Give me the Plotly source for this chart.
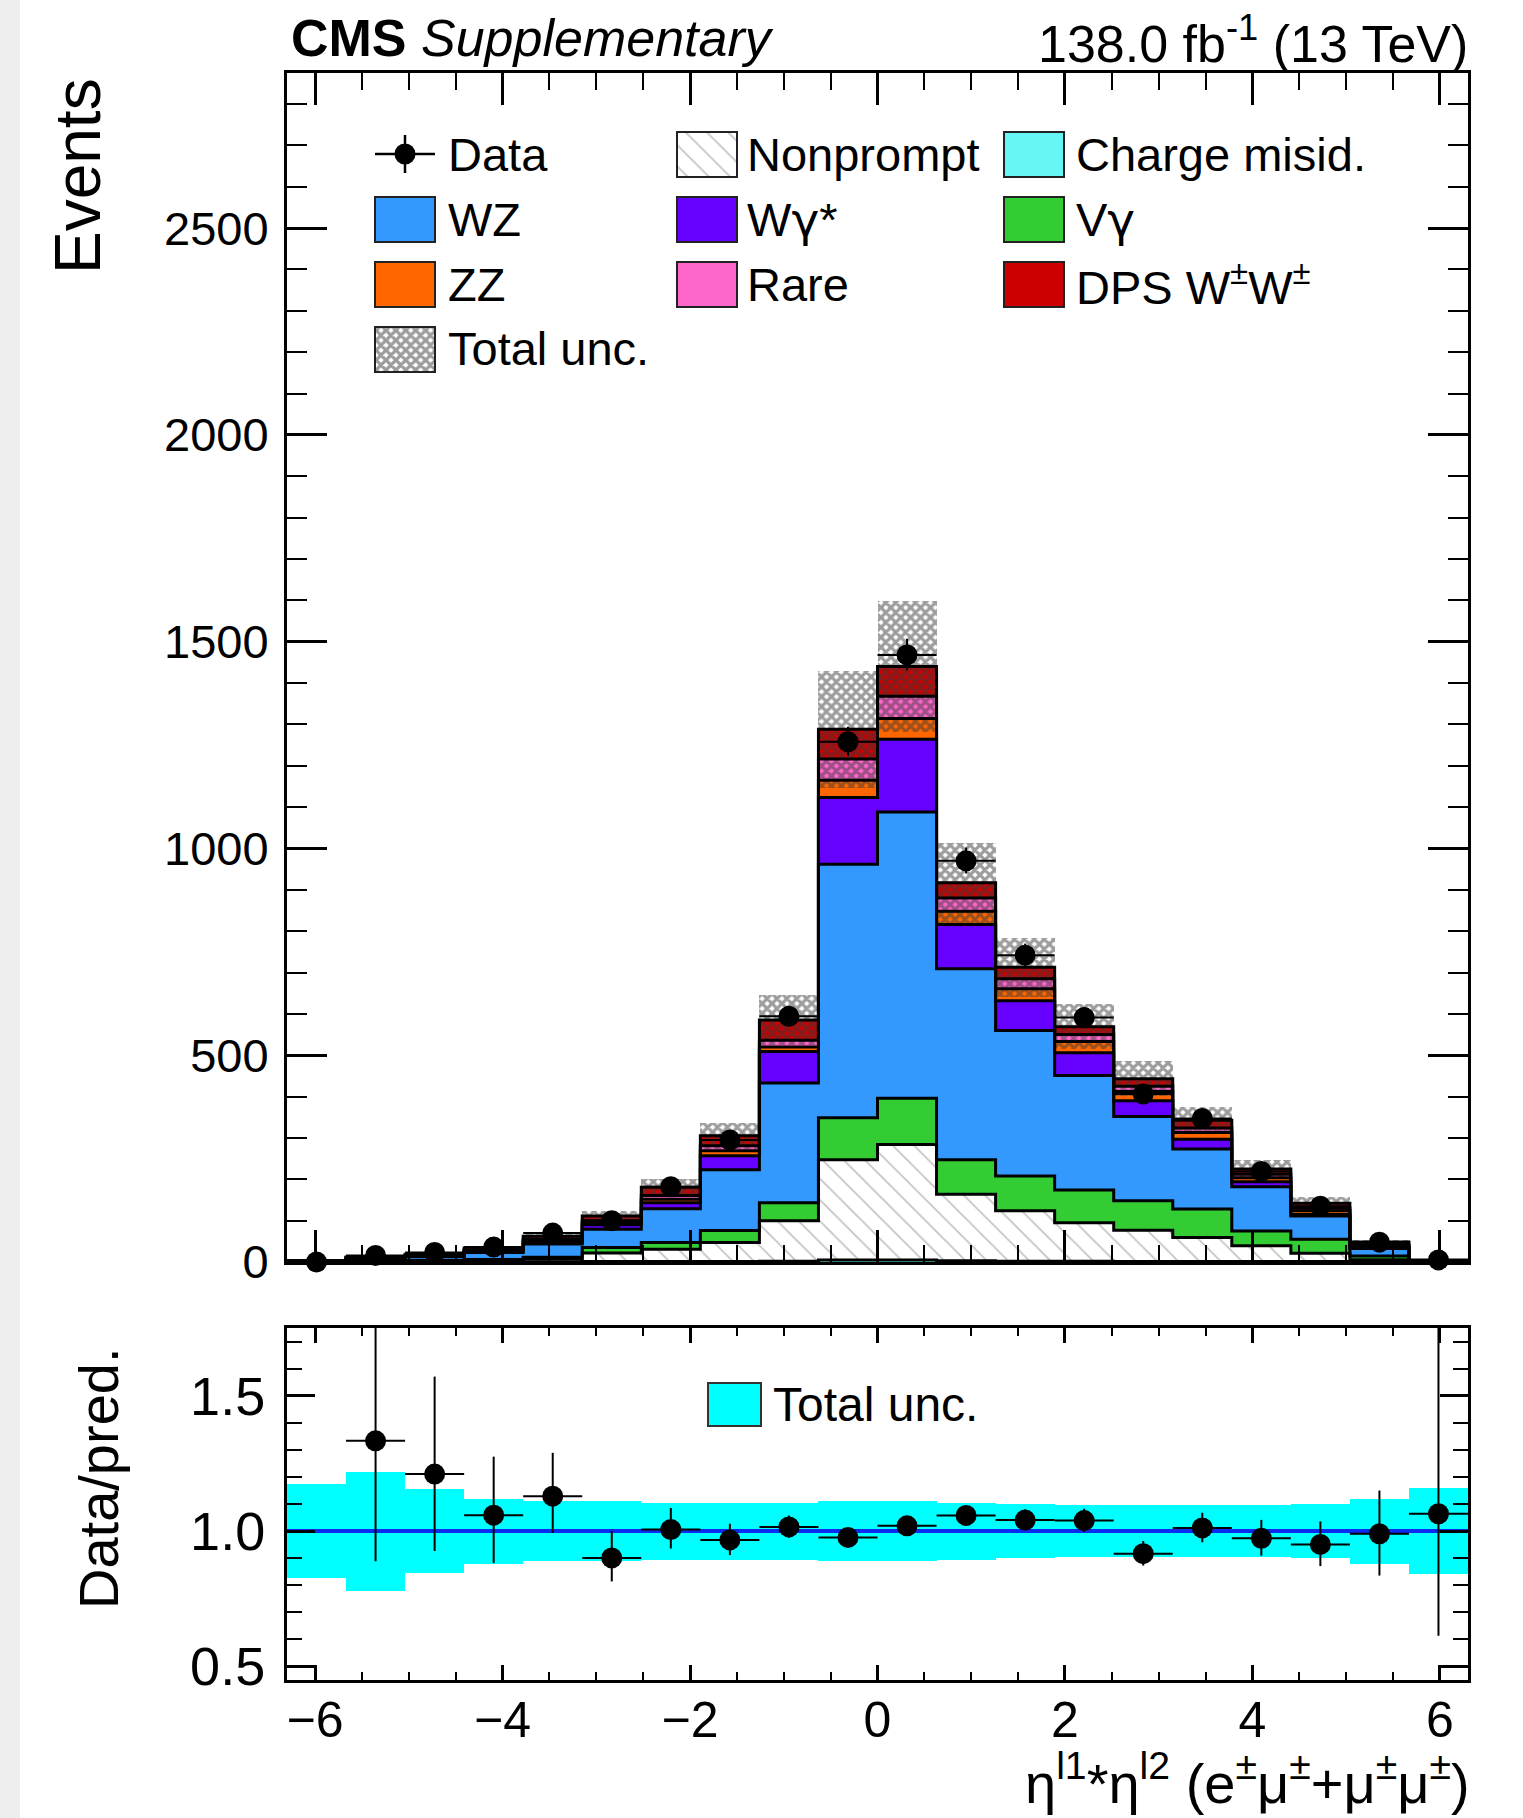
import numpy as np
import plotly.graph_objects as go

# ---------------- data ----------------
x_lo, x_hi, n_bins = -6.3, 6.3, 20

charge_misid = [0.1, 0.2, 0.3, 0.4, 0.5, 1, 1, 1, 2, 5, 5, 3, 2, 2, 1, 1, 1, 1, 0.5, 0.1]
nonprompt    = [0.3, 1.5, 2, 3.5, 7, 21, 30, 46, 98, 242, 279, 161, 122, 93, 76, 58, 38, 20, 5, 0.5]
vgamma       = [0.2, 0.8, 1.2, 2, 4, 13, 16, 29, 43, 102, 112, 83, 84, 79, 71, 69, 36, 34, 9, 0.5]
wz           = [1.5, 5.5, 9, 17, 32, 44, 82, 147, 290, 613, 692, 462, 352, 277, 204, 145, 107, 56, 18, 1.8]
wgammastar   = [0.2, 1, 1.5, 3, 5, 11, 14, 34, 76, 161, 176, 107, 72, 55, 38, 24, 12, 4, 2, 0.3]
zz           = [0.2, 0.6, 1, 2, 3, 5, 9, 12, 11, 42, 50, 32, 29, 27, 22, 16, 10, 9, 4, 0.3]
rare         = [0.2, 0.6, 1, 1.6, 3, 5, 9, 12, 16, 51, 54, 32, 24, 17, 13, 11, 8, 6, 3, 0.4]
dps_ww       = [0.6, 1.8, 3, 4.5, 7.5, 11, 20, 24, 49, 72, 72, 37, 28, 19, 18, 19, 13, 12, 7, 0.8]

data_counts  = [0, 16, 23, 36, 70, 100, 182, 295, 594, 1258, 1468, 970, 742, 591, 406, 347, 219, 135, 48, 5]

# relative total uncertainty of the prediction
rel_unc = [0.175, 0.22, 0.155, 0.12, 0.11, 0.11, 0.105, 0.105, 0.105, 0.11, 0.11,
           0.105, 0.10, 0.095, 0.095, 0.095, 0.095, 0.10, 0.12, 0.16]

# data/pred. error bars (up, down)
ratio_err_up = [0, 0.55, 0.36, 0.216, 0.16, 0.099, 0.08, 0.06, 0.042, 0.028, 0.027,
                0.035, 0.039, 0.044, 0.047, 0.056, 0.068, 0.085, 0.16, 0.75]
ratio_err_dn = [0, 0.445, 0.284, 0.177, 0.136, 0.087, 0.07, 0.056, 0.04, 0.027, 0.026,
                0.033, 0.037, 0.042, 0.044, 0.053, 0.064, 0.08, 0.154, 0.45]

x_ticks_major = [-6, -4, -2, 0, 2, 4, 6]

# ---------------- geometry ----------------
W, H = 1523, 1818
L, R, T, B = 287, 1468, 73, 1680
MAIN_BOTTOM = 1262
RATIO_TOP = 1328
pw, ph = R - L, B - T
FONT = "Liberation Sans, Arial, Helvetica, sans-serif"
GAMMA = "<span style=\"font-family:'DejaVu Sans'\">γ</span>"


def pxx(px):
    return (px - L) / pw


def pxy(py):
    return (B - py) / ph


def mu(px):
    return (px - L) / pw


def mv(py):
    return (MAIN_BOTTOM - py) / (MAIN_BOTTOM - T)


def rv(py):
    return (B - py) / (B - RATIO_TOP)


edges = np.linspace(x_lo, x_hi, n_bins + 1)
centers = 0.5 * (edges[:-1] + edges[1:])
bw = edges[1] - edges[0]

UNC_PATTERN = dict(shape="x", fgcolor="#3a3a3a", size=7, solidity=0.7, fillmode="overlay")

stack = [
    ("Charge misid.", charge_misid, "#66f6f6", None),
    ("Nonprompt", nonprompt, "white", dict(shape="\\", fgcolor="#8a8a8a", size=15, solidity=0.12, fillmode="overlay")),
    ("Vγ", vgamma, "#33cc33", None),
    ("WZ", wz, "#3399ff", None),
    ("Wγ*", wgammastar, "#6600ff", None),
    ("ZZ", zz, "#ff6600", None),
    ("Rare", rare, "#ff66cc", None),
    ("DPS W±W±", dps_ww, "#cc0000", None),
]

fig = go.Figure()

bottom = np.zeros(n_bins)
tops = []
for name, vals, color, pattern in stack:
    v = np.array(vals, dtype=float)
    marker = dict(color=color, line=dict(width=0))
    if pattern is not None:
        marker["pattern"] = pattern
    fig.add_trace(go.Bar(x=centers, y=v, base=bottom.copy(), width=[bw] * n_bins,
                         marker=marker, xaxis="x", yaxis="y", showlegend=False,
                         hoverinfo="skip"))
    bottom = bottom + v
    tops.append(bottom.copy())

# step outlines
for top in tops:
    xs = [edges[0]] + list(edges[:-1]) + [edges[-1], edges[-1]]
    ys = [0] + list(top) + [top[-1], 0]
    fig.add_trace(go.Scatter(x=xs, y=ys, mode="lines", line=dict(color="black", width=3, shape="hv"),
                             xaxis="x", yaxis="y", showlegend=False, hoverinfo="skip"))

pred = bottom
unc = pred * np.array(rel_unc)

# total uncertainty band
fig.add_trace(go.Bar(x=centers, y=2 * unc, base=pred - unc, width=[bw] * n_bins,
                     marker=dict(color="rgba(0,0,0,0)", line=dict(width=0), pattern=UNC_PATTERN),
                     xaxis="x", yaxis="y", showlegend=False, hoverinfo="skip"))

data = np.array(data_counts, dtype=float)
err_up = np.array(ratio_err_up) * pred
err_dn = np.array(ratio_err_dn) * pred
fig.add_trace(go.Scatter(x=centers, y=data, mode="markers",
                         marker=dict(color="black", size=21),
                         error_y=dict(type="data", array=err_up, arrayminus=err_dn, color="black",
                                      thickness=2, width=0),
                         error_x=dict(type="constant", value=bw / 2, color="black", thickness=2, width=0),
                         cliponaxis=False, xaxis="x", yaxis="y", showlegend=False, hoverinfo="skip"))

# ---------------- ratio panel ----------------
rel = np.array(rel_unc)
fig.add_trace(go.Bar(x=centers, y=2 * rel, base=1 - rel, width=[bw] * n_bins,
                     marker=dict(color="#00ffff", line=dict(width=0)),
                     xaxis="x2", yaxis="y2", showlegend=False, hoverinfo="skip"))
fig.add_trace(go.Scatter(x=[x_lo, x_hi], y=[1, 1], mode="lines", line=dict(color="#0a2cf0", width=4),
                         xaxis="x2", yaxis="y2", showlegend=False, hoverinfo="skip"))
ratio = np.where(data > 0, data / pred, np.nan)
fig.add_trace(go.Scatter(x=centers, y=ratio, mode="markers",
                         marker=dict(color="black", size=21),
                         error_y=dict(type="data", array=ratio_err_up, arrayminus=ratio_err_dn,
                                      color="black", thickness=2, width=0),
                         error_x=dict(type="constant", value=bw / 2, color="black", thickness=2, width=0),
                         cliponaxis=True, xaxis="x2", yaxis="y2", showlegend=False, hoverinfo="skip"))

# ---------------- legends (drawn on overlay axes) ----------------
row_y = [154, 219, 284, 349]
box_cx = [405, 707, 1034]
text_x = [446, 745, 1074]
box_w, box_h = 60, 45

legend_items = [
    (0, 0, "Data", None),
    (0, 1, "Nonprompt", 1),
    (0, 2, "Charge misid.", 0),
    (1, 0, "WZ", 3),
    (1, 1, "W" + GAMMA + "*", 4),
    (1, 2, "V" + GAMMA, 2),
    (2, 0, "ZZ", 5),
    (2, 1, "Rare", 6),
    (2, 2, "DPS W<sup>±</sup>W<sup>±</sup>", 7),
    (3, 0, "Total unc.", "unc"),
]

annotations = []
for r, c, label, idx in legend_items:
    cy = row_y[r]
    cx = box_cx[c]
    if idx is None:
        fig.add_trace(go.Scatter(x=[mu(cx)], y=[mv(cy)], mode="markers",
                                 marker=dict(color="black", size=21),
                                 error_x=dict(type="constant", value=(box_w / 2) / pw, color="black",
                                              thickness=2.5, width=0),
                                 error_y=dict(type="constant", value=19 / (MAIN_BOTTOM - T), color="black",
                                              thickness=2.5, width=0),
                                 xaxis="x3", yaxis="y3", showlegend=False, hoverinfo="skip"))
    else:
        if idx == "unc":
            marker = dict(color="white", line=dict(color="#222222", width=2), pattern=UNC_PATTERN)
        else:
            _, _, color, pattern = stack[idx]
            marker = dict(color=color, line=dict(color="#222222", width=2))
            if pattern is not None:
                marker["pattern"] = pattern
        fig.add_trace(go.Bar(x=[mu(cx)], y=[box_h / (MAIN_BOTTOM - T)], base=[mv(cy + box_h / 2)],
                             width=[box_w / pw], marker=marker,
                             xaxis="x3", yaxis="y3", showlegend=False, hoverinfo="skip"))
    annotations.append(dict(x=pxx(text_x[c]), y=pxy(cy), xref="paper", yref="paper",
                            xanchor="left", yanchor="middle", showarrow=False, text=label,
                            font=dict(size=47, color="black", family=FONT)))

# ratio legend
fig.add_trace(go.Bar(x=[mu(734.5)], y=[43 / (B - RATIO_TOP)], base=[rv(1426)], width=[53 / pw],
                     marker=dict(color="#00ffff", line=dict(color="#333333", width=2)),
                     xaxis="x4", yaxis="y4", showlegend=False, hoverinfo="skip"))
annotations.append(dict(x=pxx(771), y=pxy(1404), xref="paper", yref="paper", xanchor="left",
                        yanchor="middle", showarrow=False, text="Total unc.",
                        font=dict(size=48, color="black", family=FONT)))

# header & titles
annotations += [
    dict(x=pxx(289), y=pxy(38), xref="paper", yref="paper", xanchor="left", yanchor="middle",
         showarrow=False, text="<b>CMS</b> <i>Supplementary</i>", font=dict(size=52, color="black", family=FONT)),
    dict(x=pxx(1470), y=pxy(40), xref="paper", yref="paper", xanchor="right", yanchor="middle",
         showarrow=False, text="138.0 fb<sup>-1</sup> (13 TeV)", font=dict(size=52, color="black", family=FONT)),
    dict(x=pxx(78), y=pxy(176), xref="paper", yref="paper", xanchor="center", yanchor="middle",
         textangle=-90, showarrow=False, text="Events", font=dict(size=64, color="black", family=FONT)),
    dict(x=pxx(98), y=pxy(1478), xref="paper", yref="paper", xanchor="center", yanchor="middle",
         textangle=-90, showarrow=False, text="Data/pred.", font=dict(size=56, color="black", family=FONT)),
    dict(x=pxx(1472), y=pxy(1780), xref="paper", yref="paper", xanchor="right", yanchor="middle",
         showarrow=False,
         text="η<sup>l1</sup>*η<sup>l2</sup> (e<sup>±</sup>μ<sup>±</sup>+μ<sup>±</sup>μ<sup>±</sup>)",
         font=dict(size=56, color="black", family=FONT)),
]

axis_common = dict(showline=True, linewidth=3, linecolor="black", mirror="allticks",
                   showgrid=False, zeroline=False, ticks="inside", tickcolor="black")

fig.update_layout(
    width=W, height=H, autosize=False,
    margin=dict(l=L, r=W - R, t=T, b=H - B, pad=0),
    paper_bgcolor="white", plot_bgcolor="white",
    barmode="overlay", bargap=0,
    font=dict(family=FONT, color="black"),
    annotations=annotations,
    xaxis=dict(domain=[0, 1], range=[x_lo, x_hi], anchor="y", showticklabels=False,
               tickmode="array", tickvals=x_ticks_major, ticklen=32, tickwidth=2.5,
               minor=dict(ticks="inside", dtick=0.5, tick0=0, ticklen=17, tickwidth=2, tickcolor="black"),
               **axis_common),
    yaxis=dict(domain=[pxy(MAIN_BOTTOM), 1], range=[0, 2875], anchor="x",
               tick0=0, dtick=500, ticklen=40, tickwidth=2.5,
               minor=dict(ticks="inside", dtick=100, ticklen=20, tickwidth=2, tickcolor="black"),
               tickfont=dict(size=47), ticklabelstandoff=6,
               **axis_common),
    xaxis2=dict(domain=[0, 1], range=[x_lo, x_hi], anchor="y2",
                tickmode="array", tickvals=x_ticks_major, ticklen=15, tickwidth=2.5,
                minor=dict(ticks="inside", dtick=0.5, tick0=0, ticklen=8, tickwidth=2, tickcolor="black"),
                tickfont=dict(size=50), ticklabelstandoff=-6,
                **axis_common),
    yaxis2=dict(domain=[0, pxy(RATIO_TOP)], range=[0.45, 1.75], anchor="x2",
                tick0=0.5, dtick=0.5, tickformat=".1f", ticklen=28, tickwidth=2.5,
                minor=dict(ticks="inside", dtick=0.1, tick0=0.5, ticklen=15, tickwidth=2, tickcolor="black"),
                tickfont=dict(size=54), ticklabelstandoff=8,
                **axis_common),
    xaxis3=dict(overlaying="x", range=[0, 1], visible=False, anchor="y3"),
    yaxis3=dict(overlaying="y", range=[0, 1], visible=False, anchor="x3"),
    xaxis4=dict(overlaying="x2", range=[0, 1], visible=False, anchor="y4"),
    yaxis4=dict(overlaying="y2", range=[0, 1], visible=False, anchor="x4"),
    shapes=[dict(type="rect", xref="paper", yref="paper", x0=pxx(0), x1=pxx(20), y0=pxy(H), y1=pxy(0),
                 fillcolor="#eeeeee", line=dict(width=0), layer="below")],
)

fig.write_html("out.html")
